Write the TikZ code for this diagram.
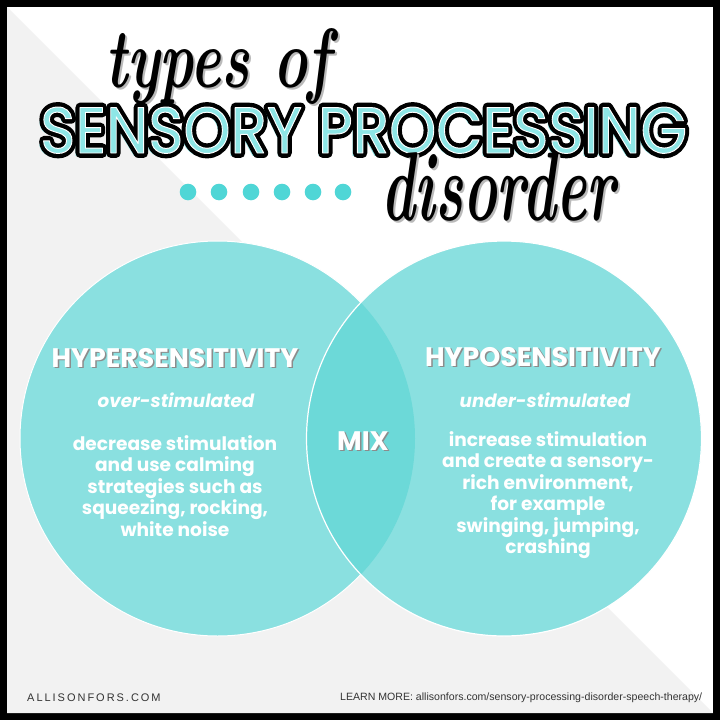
\documentclass[tikz,border=0pt]{standalone}
\usepackage{fontspec}
\usepackage{xcolor}
\usepackage{graphicx}
\setmainfont{Poppins}
\newfontfamily\scriptfam{Latin Modern Roman}
\newfontfamily\footfam{Liberation Sans}
\definecolor{spdteal}{HTML}{8AE0E0}
\definecolor{spdlens}{HTML}{6CD9D8}
\definecolor{spddot}{HTML}{4FD6D6}
\definecolor{spdfill}{HTML}{8EE6E6}
\definecolor{spdgray}{HTML}{F2F2F2}
\definecolor{spdshade}{HTML}{8C8C8C}
\definecolor{spdfoot}{HTML}{333333}
\newcommand{\typesbox}{\resizebox{225pt}{59pt}{\scriptfam\bfseries\itshape types of}}
\newcommand{\disorderbox}{\resizebox{234pt}{68pt}{\scriptfam\bfseries\itshape disorder}}
\newcommand{\bigtext}{SENSORY PROCESSING}
\newcommand{\bigbox}[1]{\resizebox{647pt}{46pt}{#1}}
% stroked glyphs: width, stroke colour (rgb), text
\newcommand{\strokedtext}[3]{\special{pdf:literal direct 2 Tr 1 j #1 w #2 RG}#3\special{pdf:literal direct 0 Tr}}
\tikzset{
  spdbase/.style={anchor=base west, inner sep=0pt},
  spdhead/.style={inner sep=0pt, text=white, font=\bfseries\fontsize{26.8}{30}\selectfont},
  spdheadshade/.style={spdhead, text=spdshade},
  spdsub/.style={inner sep=0pt, text=white, font=\bfseries\itshape\fontsize{18.3}{21}\selectfont},
  spdbody/.style={inner sep=0pt, text=white, align=center,
    font=\bfseries\fontsize{18.6}{21.5}\selectfont},
  spdfoot/.style={anchor=west, inner sep=0pt, text=spdfoot}
}
\begin{document}
\begin{tikzpicture}[x=1pt,y=-1pt]
  \useasboundingbox (0,0) rectangle (720,720);
  % frame and backdrop
  \fill[black] (0,0) rectangle (720,720);
  \fill[white] (7,7) rectangle (713,713);
  \fill[spdgray] (7,7) -- (7,713) -- (713,713) -- cycle;

  % venn circles
  \coordinate (hyperc) at (217.5,438.5);
  \coordinate (hypoc) at (504,438.5);
  \fill[spdteal, draw=white, line width=1pt] (hyperc) circle[radius=197.5];
  \fill[spdteal] (hypoc) circle[radius=197.5];
  \begin{scope}
    \clip (hyperc) circle[radius=197.5];
    \fill[spdlens] (hypoc) circle[radius=197.5];
  \end{scope}
  \draw[white, line width=1.2pt] (hypoc) circle[radius=197.5];

  % title
  \node[spdbase, text=spdshade!60] at (107,89) {\typesbox};
  \node[spdbase] (types) at (105,87) {\typesbox};
  \node[spdbase, text=spdfill] at (36,156) {\bigbox{\bigtext}};
  \node[spdbase, text=spdfill] (sensory) at (40,153)
    {\bigbox{\strokedtext{1.5}{0 0 0}{\bigtext}}};
  \node[spdbase, text=spdfill] at (40,153)
    {\bigbox{\strokedtext{0.15}{1 1 1}{\bigtext}}};
  \node[spdbase, text=spdshade!60] at (383,222) {\disorderbox};
  \node[spdbase] (disorder) at (381,220) {\disorderbox};
  \foreach \i/\x in {1/188,2/219,3/251,4/282,5/313,6/343}
    \fill[spddot] (\x,192) circle[radius=8.3];

  % left circle
  \node[spdheadshade] at (176.5,359.5) {HYPERSENSITIVITY};
  \node[spdhead] (hyperhead) at (175,358) {HYPERSENSITIVITY};
  \node[spdsub] (hypersub) at (176,400) {over-stimulated};
  \node[spdbody] (hyperbody) at (175,486)
    {decrease stimulation\\and use calming\\strategies such as\\squeezing, rocking,\\white noise};

  % overlap
  \node[spdheadshade] at (364.5,442.5) {MIX};
  \node[spdhead] (mix) at (363,441) {MIX};

  % right circle
  \node[spdheadshade] at (544.5,358.5) {HYPOSENSITIVITY};
  \node[spdhead] (hypohead) at (543,357) {HYPOSENSITIVITY};
  \node[spdsub] (hyposub) at (545,400) {under-stimulated};
  \node[spdbody] (hypobody) at (548,495)
    {increase stimulation\\and create a sensory-\\rich environment,\\for example\\swinging, jumping,\\crashing};

  % footer
  \node[spdfoot, font=\footfam\addfontfeature{LetterSpace=18}\fontsize{11}{12}\selectfont]
    (site) at (27,698) {ALLISONFORS.COM};
  \node[spdfoot, font=\footfam\fontsize{10}{12}\selectfont] (learn) at (340,698)
    {\resizebox{362pt}{!}{LEARN MORE: allisonfors.com/sensory-processing-disorder-speech-therapy/}};
\end{tikzpicture}
\end{document}
